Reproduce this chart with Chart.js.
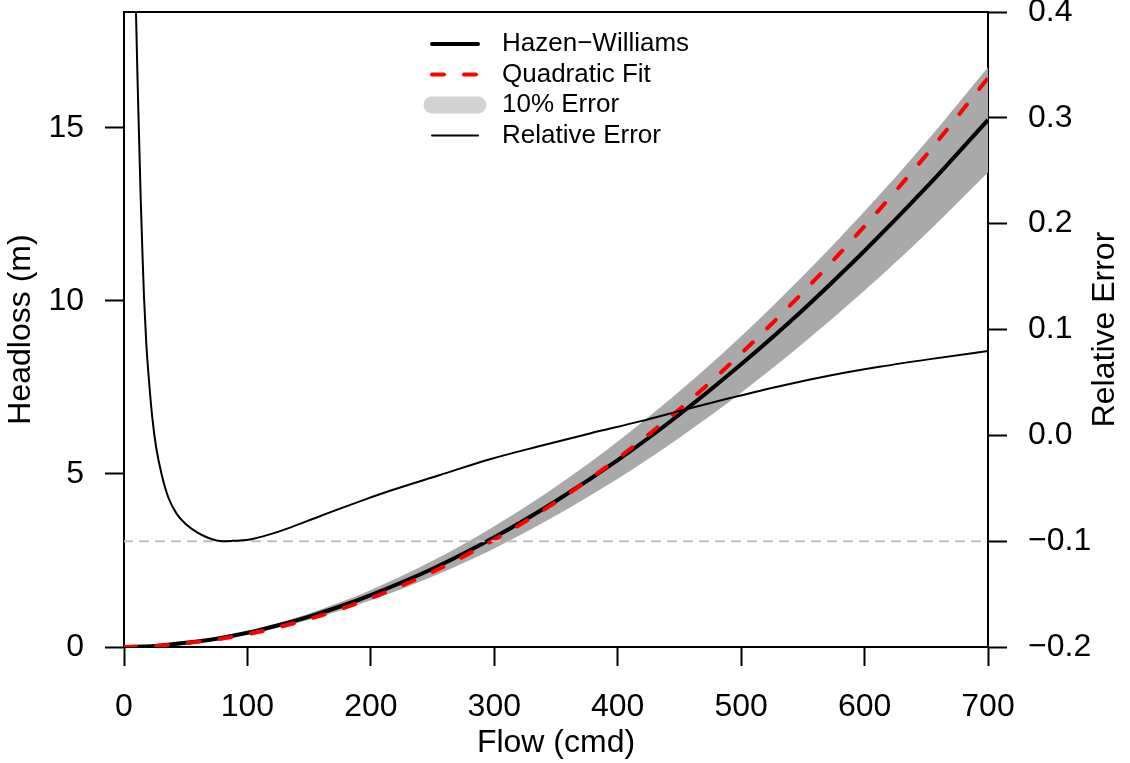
<!DOCTYPE html>
<html>
<head>
<meta charset="utf-8">
<script src="https://cdn.jsdelivr.net/npm/chart.js@4.4.0/dist/chart.umd.min.js"></script>
<style>
  html, body { margin: 0; padding: 0; background: #fff; }
  #wrap { width: 1130px; height: 763px; }
</style>
</head>
<body>
<div id="wrap"><canvas id="headloss" width="1130" height="763"></canvas></div>
<script>
// flow (cmd) for the headloss curves
const flow = [0, 25, 50, 75, 100, 125, 150, 175, 200, 250, 300, 350, 400, 450, 500, 550, 600, 650, 700];
const hazenWilliams = [0, 0.03, 0.12, 0.24, 0.41, 0.63, 0.88, 1.17, 1.50, 2.26, 3.17, 4.22, 5.40, 6.72, 8.17, 9.74, 11.45, 13.28, 15.23];
const quadraticFit = [0, 0.03, 0.11, 0.22, 0.37, 0.57, 0.81, 1.09, 1.41, 2.17, 3.10, 4.19, 5.45, 6.87, 8.48, 10.25, 12.16, 14.22, 16.44];
// 10% error band
const errLower = [0, 0.03, 0.11, 0.22, 0.37, 0.56, 0.79, 1.05, 1.35, 2.04, 2.85, 3.80, 4.86, 6.05, 7.35, 8.77, 10.30, 11.95, 13.71];
const errUpper = [0, 0.03, 0.13, 0.27, 0.46, 0.69, 0.97, 1.29, 1.65, 2.49, 3.49, 4.64, 5.94, 7.39, 8.98, 10.72, 12.59, 14.60, 16.75];

// relative error (tighter near zero flow where it shoots up)
const relFlow = [9.7, 11, 12, 13.5, 15, 16.2, 18, 20.5, 23, 26, 30.5, 36, 42.7, 50, 58.9, 68, 75, 80, 88, 94, 102, 118, 134.5, 155, 175, 195, 215.5, 256, 296.5, 337, 377.5, 418, 455, 491, 532, 572, 612, 653, 700];
const relError = [0.400, 0.335, 0.291, 0.225, 0.170, 0.131, 0.088, 0.048, 0.016, -0.011, -0.037, -0.059, -0.0742, -0.0838, -0.0915, -0.0968, -0.0993, -0.100, -0.0997, -0.0993, -0.0984, -0.0936, -0.0872, -0.0781, -0.0692, -0.0607, -0.0524, -0.0375, -0.0226, -0.0101, 0.0018, 0.0132, 0.0245, 0.0352, 0.0467, 0.0565, 0.0647, 0.0720, 0.0797];
const relErrorMin = -0.1;

const flowTicks = [0, 100, 200, 300, 400, 500, 600, 700];
const headTicks = [0, 5, 10, 15];
const relTicks = [-0.2, -0.1, 0.0, 0.1, 0.2, 0.3, 0.4];

const FONT = "'Liberation Sans', Arial, Helvetica, sans-serif";
const AXIS_PX = 32;
Chart.defaults.font.family = FONT;
Chart.defaults.color = '#000';

const pts = (xs, ys) => xs.map((x, i) => ({ x: x, y: ys[i] }));

// top edge of the box, right title and the legend (drawn by hand, R style)
const boxAndLegend = {
  id: 'boxAndLegend',
  afterDraw(chart) {
    const c = chart.ctx, a = chart.chartArea;
    c.save();
    c.strokeStyle = '#000';
    c.lineWidth = 2;
    c.beginPath();
    c.moveTo(a.left, a.top);
    c.lineTo(a.right, a.top);
    c.stroke();

    // right axis title, reads bottom to top
    c.translate(1105, (a.top + a.bottom) / 2);
    c.rotate(-Math.PI / 2);
    c.font = AXIS_PX + 'px ' + FONT;
    c.fillStyle = '#000';
    c.textAlign = 'center';
    c.textBaseline = 'middle';
    c.fillText('Relative Error', 0, 0);
    c.restore();

    const rows = [44, 74.5, 105, 135.5];
    const x0 = 432, x1 = 478;
    const items = [
      { text: 'Hazen\u2212Williams', color: '#000', width: 4, dash: [] },
      { text: 'Quadratic Fit', color: '#ff0000', width: 4, dash: [12, 20] },
      { text: '10% Error', color: '#d3d3d3', width: 17, dash: [] },
      { text: 'Relative Error', color: '#000', width: 2, dash: [] }
    ];
    c.save();
    c.lineCap = 'round';
    items.forEach((it, i) => {
      c.strokeStyle = it.color;
      c.lineWidth = it.width;
      c.setLineDash(it.dash);
      c.beginPath();
      c.moveTo(x0, rows[i]);
      c.lineTo(x1, rows[i]);
      c.stroke();
    });
    c.setLineDash([]);
    c.font = '26px ' + FONT;
    c.fillStyle = '#000';
    c.textBaseline = 'middle';
    items.forEach((it, i) => c.fillText(it.text, 502, rows[i]));
    c.restore();
  }
};

const ctx = document.getElementById('headloss').getContext('2d');
new Chart(ctx, {
  type: 'line',
  data: {
    datasets: [
      {
        label: 'lower',
        data: pts(flow, errLower),
        yAxisID: 'y',
        borderWidth: 0,
        borderColor: 'rgba(0,0,0,0)',
        fill: false,
        cubicInterpolationMode: 'monotone',
        order: 5
      },
      {
        label: '10% Error',
        data: pts(flow, errUpper),
        yAxisID: 'y',
        borderWidth: 0,
        borderColor: 'rgba(0,0,0,0)',
        backgroundColor: '#a9a9a9',
        fill: '-1',
        cubicInterpolationMode: 'monotone',
        order: 4
      },
      {
        label: 'Hazen-Williams',
        data: pts(flow, hazenWilliams),
        yAxisID: 'y',
        borderColor: '#000',
        borderWidth: 4,
        cubicInterpolationMode: 'monotone',
        order: 3
      },
      {
        label: 'Quadratic Fit',
        data: pts(flow, quadraticFit),
        yAxisID: 'y',
        borderColor: '#ff0000',
        borderWidth: 4,
        borderDash: [12, 20],
        borderCapStyle: 'round',
        cubicInterpolationMode: 'monotone',
        order: 2
      },
      {
        label: 'min',
        data: [{ x: 0, y: relErrorMin }, { x: 700, y: relErrorMin }],
        yAxisID: 'y1',
        borderColor: '#bebebe',
        borderWidth: 2,
        borderDash: [8, 8],
        borderCapStyle: 'round',
        order: 1
      },
      {
        label: 'Relative Error',
        data: pts(relFlow, relError),
        yAxisID: 'y1',
        borderColor: '#000',
        borderWidth: 2,
        cubicInterpolationMode: 'monotone',
        order: 0
      }
    ]
  },
  options: {
    responsive: false,
    animation: false,
    layout: { padding: { top: 12, left: 0, right: 0, bottom: 0 } },
    elements: { point: { radius: 0 } },
    plugins: { legend: { display: false }, tooltip: { enabled: false } },
    scales: {
      x: {
        type: 'linear',
        position: 'bottom',
        min: 0,
        max: 700,
        afterBuildTicks: s => { s.ticks = flowTicks.map(v => ({ value: v })); },
        afterFit: s => { s.height = 116; s.paddingLeft = 0; s.paddingRight = 0; },
        ticks: { font: { size: AXIS_PX }, color: '#000', padding: 22, maxRotation: 0, autoSkip: false },
        grid: { drawOnChartArea: false, tickLength: 19, tickWidth: 2, tickColor: '#000' },
        border: { color: '#000', width: 2 },
        title: { display: true, text: 'Flow (cmd)', font: { size: AXIS_PX }, color: '#000', padding: { top: 0, bottom: 1 } }
      },
      y: {
        type: 'linear',
        position: 'left',
        min: 0,
        max: 18.35,
        afterBuildTicks: s => { s.ticks = headTicks.map(v => ({ value: v })); },
        afterFit: s => { s.width = 124; s.paddingTop = 0; s.paddingBottom = 0; },
        ticks: { font: { size: AXIS_PX }, color: '#000', padding: 21 },
        grid: { drawOnChartArea: false, tickLength: 19, tickWidth: 2, tickColor: '#000' },
        border: { color: '#000', width: 2 },
        title: { display: true, text: 'Headloss (m)', font: { size: AXIS_PX }, color: '#000', padding: { top: 2, bottom: 0 } }
      },
      y1: {
        type: 'linear',
        position: 'right',
        min: -0.2,
        max: 0.4,
        afterBuildTicks: s => { s.ticks = relTicks.map(v => ({ value: v })); },
        afterFit: s => { s.width = 142; s.paddingTop = 0; s.paddingBottom = 0; },
        ticks: {
          font: { size: AXIS_PX },
          color: '#000',
          padding: 21,
          callback: v => (v < -1e-9 ? '\u2212' : '') + Math.abs(v).toFixed(1)
        },
        grid: { drawOnChartArea: false, tickLength: 19, tickWidth: 2, tickColor: '#000' },
        border: { color: '#000', width: 2 }
      }
    }
  },
  plugins: [boxAndLegend]
});
</script>
</body>
</html>
